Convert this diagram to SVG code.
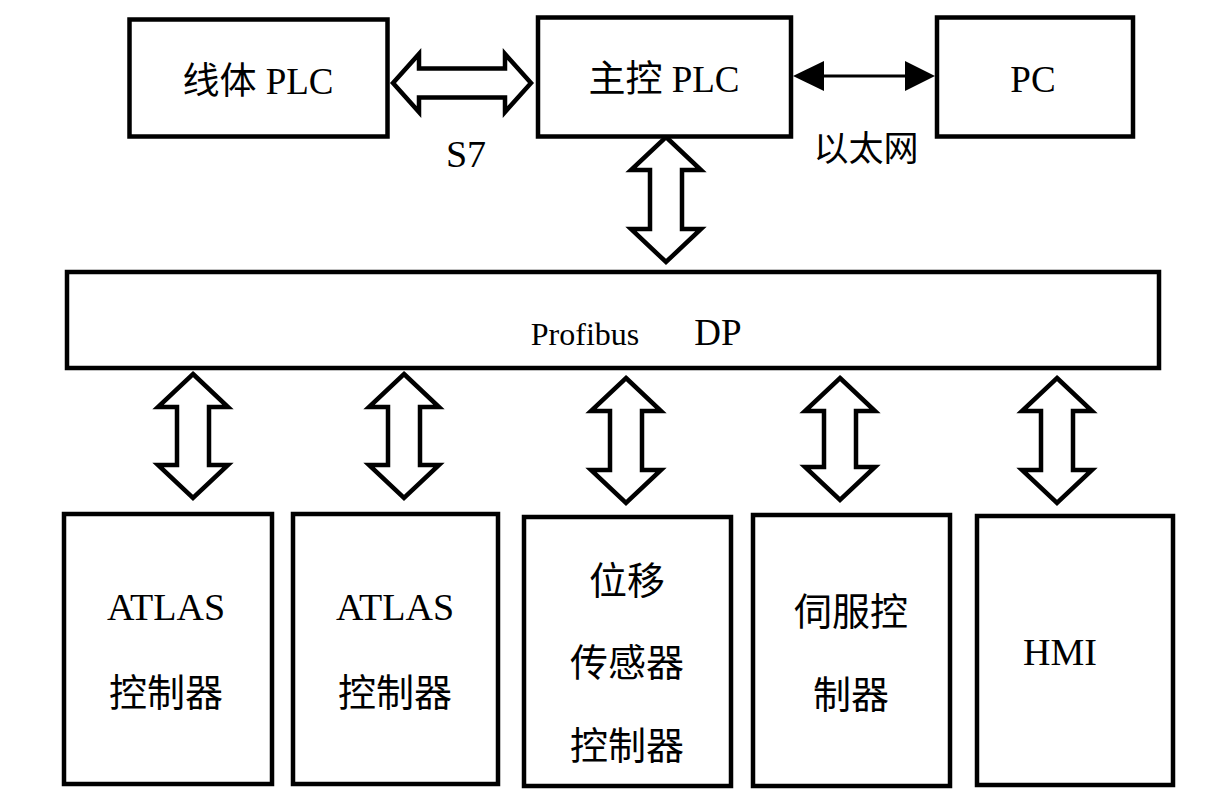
<svg xmlns="http://www.w3.org/2000/svg" width="1221" height="809" viewBox="0 0 1221 809">
<style>
.box{fill:#fff;stroke:#000;stroke-width:4.5}
.arr{fill:#fff;stroke:#000;stroke-width:4.5;stroke-linejoin:miter}
.t{font-family:"Liberation Serif","Noto Sans CJK SC",serif;font-size:37px;fill:#000;text-anchor:middle}
.b{font-size:38px}
</style>
<rect width="1221" height="809" fill="#fff"/>
<g id="connectors">
<path class="arr" d="M393,83 L419,54 L419,68.5 L505,68.5 L505,54 L531,83 L505,112 L505,97.5 L419,97.5 L419,112 Z"/>
<line x1="820" y1="76" x2="909" y2="76" stroke="#000" stroke-width="3"/>
<polygon points="793,76 824,61 824,91" fill="#000"/>
<polygon points="935,76 905,61 905,91" fill="#000"/>
<path class="arr" d="M666,137 L701,170 L682,170 L682,229 L701,229 L666,262 L631,229 L650,229 L650,170 L631,170 Z"/>
<path class="arr" d="M193,374 L228,407 L209,407 L209,465 L228,465 L193,498 L158,465 L177,465 L177,407 L158,407 Z"/>
<path class="arr" d="M404,374 L439,407 L420,407 L420,465 L439,465 L404,498 L369,465 L388,465 L388,407 L369,407 Z"/>
<path class="arr" d="M626,378 L661,411 L642,411 L642,470 L661,470 L626,503 L591,470 L610,470 L610,411 L591,411 Z"/>
<path class="arr" d="M840,378 L875,411 L856,411 L856,467 L875,467 L840,500 L805,467 L824,467 L824,411 L805,411 Z"/>
<path class="arr" d="M1057,378 L1092,411 L1073,411 L1073,470 L1092,470 L1057,503 L1022,470 L1041,470 L1041,411 L1022,411 Z"/>
<text class="t b" x="466" y="167">S7</text>
<text class="t" x="866" y="161" style="font-size:35px">以太网</text>
</g>
<g id="line-plc">
<rect class="box" x="129.5" y="19.5" width="258" height="117"/>
<text class="t" x="258" y="94">线体 PLC</text>
</g>
<g id="main-plc">
<rect class="box" x="538" y="17.5" width="253" height="119"/>
<text class="t" x="664" y="92">主控 PLC</text>
</g>
<g id="pc">
<rect class="box" x="937" y="17.5" width="196" height="119"/>
<text class="t" x="1033" y="92">PC</text>
</g>
<g id="profibus">
<rect class="box" x="67" y="272" width="1092" height="96"/>
<text class="t" x="585" y="345" style="font-size:32px">Profibus</text>
<text class="t" x="718" y="345" style="font-size:37px">DP</text>
</g>
<g id="atlas1">
<rect class="box" x="64" y="514" width="208" height="270"/>
<text class="t b" x="166" y="620">ATLAS</text>
<text class="t b" x="166" y="706">控制器</text>
</g>
<g id="atlas2">
<rect class="box" x="293" y="514" width="205" height="270"/>
<text class="t b" x="395" y="620">ATLAS</text>
<text class="t b" x="395" y="706">控制器</text>
</g>
<g id="sensor">
<rect class="box" x="524" y="517" width="207" height="269"/>
<text class="t b" x="627" y="594">位移</text>
<text class="t b" x="627" y="676">传感器</text>
<text class="t b" x="627" y="759">控制器</text>
</g>
<g id="servo">
<rect class="box" x="753" y="515" width="197" height="271"/>
<text class="t b" x="851" y="625">伺服控</text>
<text class="t b" x="851" y="708">制器</text>
</g>
<g id="hmi">
<rect class="box" x="977" y="516" width="196" height="269"/>
<text class="t b" x="1060" y="665">HMI</text>
</g>
</svg>
